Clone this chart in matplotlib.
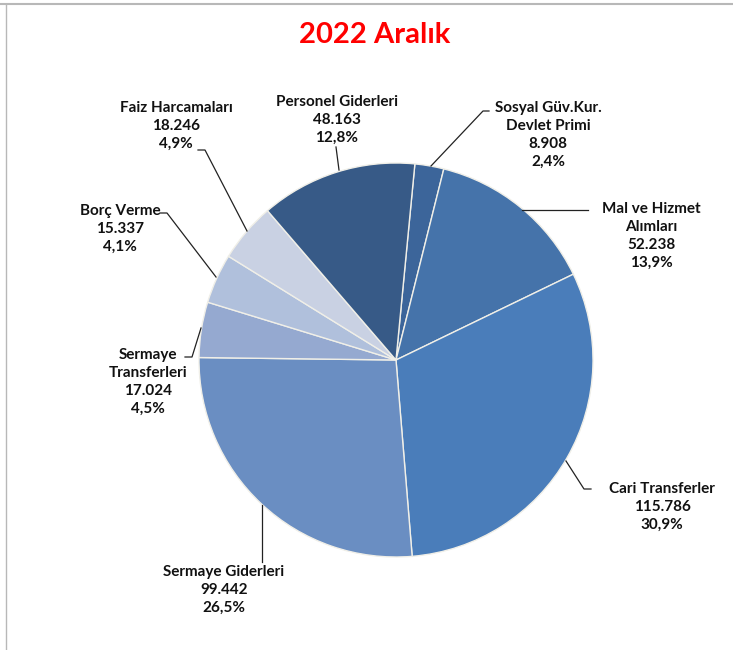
import matplotlib.pyplot as plt
from matplotlib.lines import Line2D

# data, clockwise from the top
names = ['Sosyal Güv.Kur.\nDevlet Primi', 'Mal ve Hizmet\nAlımları', 'Cari Transferler',
         'Sermaye Giderleri', 'Sermaye\nTransferleri', 'Borç Verme',
         'Faiz Harcamaları', 'Personel Giderleri']
values = [8908, 52238, 115786, 99442, 17024, 15337, 18246, 48163]
colors = ['#3c659a', '#4573aa', '#4a7dba', '#6a8ec2', '#95a9d0', '#b0c0dc', '#c9d1e3', '#375a87']

# label text centre (px, top-left origin) and leader line points
label_pos = [(548, 135), (651, 236), (662, 507), (224, 590), (148, 382), (120, 229),
             (176, 126), (337, 120)]
leaders = [
    [(431, 166), (483, 111), (489, 111)],
    [(522, 210), (588, 210)],
    [(566, 461), (584, 489), (591, 489)],
    [(262, 505), (262, 562)],
    [(201, 328), (192, 357), (185, 357)],
    [(216, 277), (167, 213), (160, 213)],
    [(247, 231), (205, 150), (198, 150)],
    [(339, 170), (336, 147)],
]

W, H = 733, 650
plt.rcParams['font.family'] = ['Lato', 'DejaVu Sans']

fig = plt.figure(figsize=(W / 100, H / 100), dpi=100)
ax = fig.add_axes([0, 0, 1, 1])
ax.set_xlim(0, W)
ax.set_ylim(0, H)
ax.set_aspect('equal')
ax.axis('off')

ax.pie(values, colors=colors, center=(396, H - 360), radius=197,
       startangle=84.5, counterclock=False,
       wedgeprops=dict(edgecolor='#f0efe8', linewidth=1.0))
ax.set_xlim(0, W)
ax.set_ylim(0, H)

total = sum(values)
for name, v, (x, y) in zip(names, values, label_pos):
    txt = '{}\n{}\n{}%'.format(name, f'{v:,}'.replace(',', '.'),
                               f'{100 * v / total:.1f}'.replace('.', ','))
    ax.text(x, H - y, txt, ha='center', va='center', fontsize=11,
            fontweight='bold', color='#111111', linespacing=1.38)

for pts in leaders:
    xs = [p[0] for p in pts]
    ys = [H - p[1] for p in pts]
    ax.plot(xs, ys, color='#222222', lw=0.9)

ax.text(375, H - 35, '2022 Aralık', ha='center', va='center', fontsize=21,
        fontweight='bold', color='#ff0000')

# chart frame
fig.add_artist(Line2D([0, 1], [1 - 4 / H, 1 - 4 / H], color='#b8b8b8', lw=1.5))
fig.add_artist(Line2D([6 / W, 6 / W], [0, 1 - 4 / H], color='#b8b8b8', lw=1.0))

fig.savefig('out.png', dpi=100)
